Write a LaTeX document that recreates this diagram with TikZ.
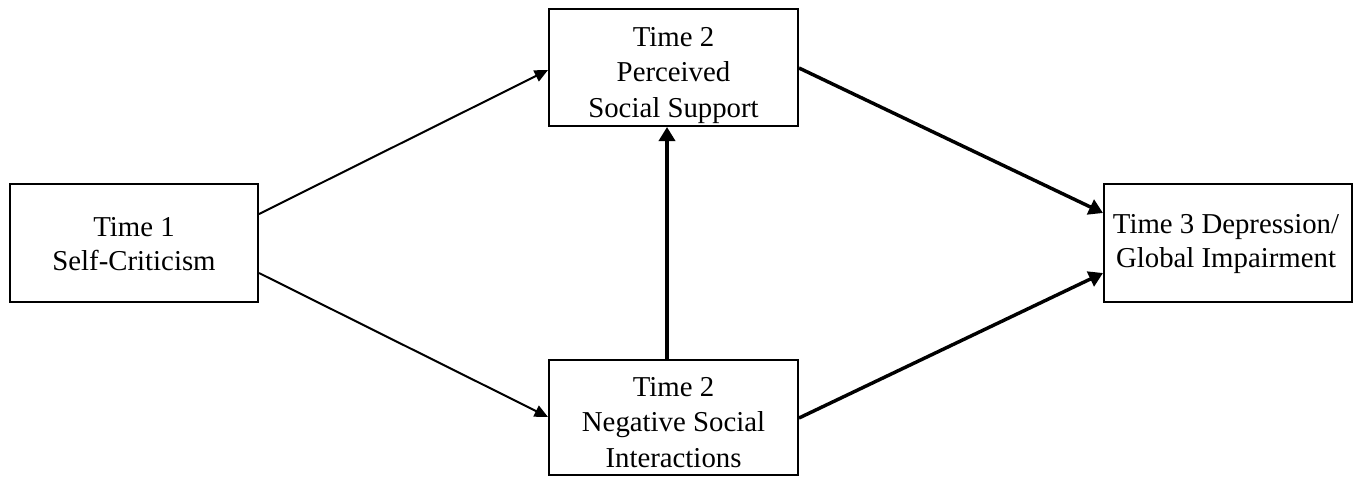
\documentclass[tikz,border=0pt]{standalone}
\usepackage{fontspec}
\setmainfont{Liberation Serif}
\usetikzlibrary{arrows.meta,calc}
\begin{document}
\begin{tikzpicture}[x=0.75pt,y=-0.75pt,
  box/.style={draw,line width=1.5pt,inner sep=0pt},
  lbl2/.style={inner sep=0pt,align=center,font=\fontsize{21.6}{25}\selectfont},
  lbl3/.style={inner sep=0pt,align=center,font=\fontsize{21.6}{26.5}\selectfont},
  thin/.style={line width=1.5pt,-{Triangle[length=10pt,width=9pt]}},
  thick/.style={line width=2.6pt,-{Triangle[length=10.5pt,width=12pt]}}]
\useasboundingbox (0,0) rectangle (1358,476);
\node[box,minimum width=186pt,minimum height=88.5pt] (L) at (134,243) {};
\node[box,minimum width=186.75pt,minimum height=87.75pt] (T) at (673.5,67.5) {};
\node[box,minimum width=186.75pt,minimum height=86.25pt] (B) at (673.5,417.5) {};
\node[box,minimum width=186pt,minimum height=88.5pt] (R) at (1228,243) {};
\node[lbl2] (Lt) at ($(L.center)+(0,1)$) {Time 1\\Self-Criticism};
\node[lbl3] (Tt) at ($(T.center)+(0,8)$) {Time 2\\Perceived\\Social Support};
\node[lbl3] (Bt) at ($(B.center)+(0,5)$) {Time 2\\Negative Social\\Interactions};
\node[lbl2] (Rt) at ($(R.center)+(-2,1)$) {Time 3 Depression/\\Global Impairment};
\draw[thin] (L.east |- 0,214) -- (T.west |- 0,70);
\draw[thin] (L.east |- 0,273) -- (B.west |- 0,417);
\draw[thick] (T.east |- 0,68) -- (R.west |- 0,213);
\draw[thick] (B.east |- 0,418) -- (R.west |- 0,273);
\draw[thick] (B.north -| 667,0) -- (T.south -| 667,0);
\end{tikzpicture}
\end{document}
